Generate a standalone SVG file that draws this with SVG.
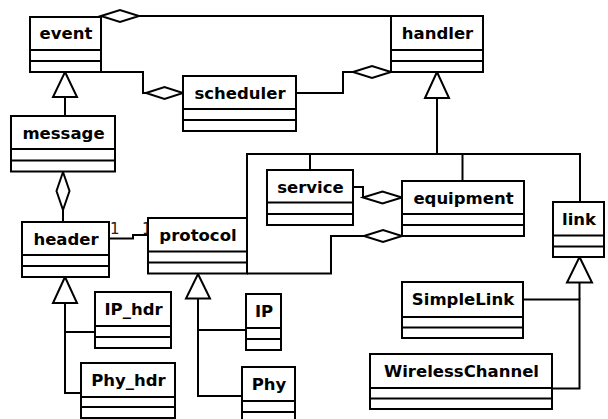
<svg xmlns="http://www.w3.org/2000/svg" width="608" height="419" viewBox="0 0 608 419">
<style>
.box{fill:#fff;stroke:#000;stroke-width:2}
.sep{stroke:#000;stroke-width:2}
.nm{font-family:"DejaVu Sans",sans-serif;font-weight:bold;font-size:16.5px;fill:#000;text-anchor:middle}
.ln{fill:none;stroke:#000;stroke-width:2}
.dia{fill:#fff;stroke:#000;stroke-width:2}
.tri{fill:#fff;stroke:#000;stroke-width:2}
.lbl{font-family:"DejaVu Sans",sans-serif;font-size:15px;fill:#222}
</style>
<rect width="608" height="419" fill="#fff"/>
<g id="connectors">
<polyline class="ln" points="139,16 391,16"/>
<polygon class="dia" points="101,16 120,10 139,16 120,22"/>
<polyline class="ln" points="101,72 143,72 143,93 146,93"/>
<polygon class="dia" points="146,93 164.5,87 183,93 164.5,99"/>
<polyline class="ln" points="296,93 343,93 343,72 353,72"/>
<polygon class="dia" points="353,72 372,66 391,72 372,78"/>
<line class="ln" x1="65" y1="97" x2="65" y2="116"/>
<polygon class="tri" points="65,72 77,97 53,97"/>
<line class="ln" x1="63" y1="210" x2="63" y2="222"/>
<polygon class="dia" points="63,172 69.5,191 63,210 56.5,191"/>
<polyline class="ln" points="109,238.5 133,238.5 133,235 148,235"/>
<text class="lbl" x="110" y="233.5">1</text>
<text class="lbl" x="142" y="233.5">1</text>
<line class="ln" x1="437" y1="98" x2="437" y2="154"/>
<polygon class="tri" points="437,72 449,98 425,98"/>
<polyline class="ln" points="247,218 247,154 580,154 580,202"/>
<line class="ln" x1="310" y1="154" x2="310" y2="170"/>
<line class="ln" x1="462.5" y1="154" x2="462.5" y2="181"/>
<polyline class="ln" points="353,187 363,187 363,197.5"/>
<polygon class="dia" points="363,197.5 382.5,191.5 402,197.5 382.5,203.5"/>
<polyline class="ln" points="247,273.5 331,273.5 331,236 364,236"/>
<polygon class="dia" points="364,236 383,230 402,236 383,242"/>
<polyline class="ln" points="95,332 65,332 65,393 81,393"/>
<line class="ln" x1="65" y1="303" x2="65" y2="332"/>
<polygon class="tri" points="65,277 77,303 53,303"/>
<polyline class="ln" points="246,330 198,330 198,396 242,396"/>
<line class="ln" x1="198" y1="298.5" x2="198" y2="330"/>
<polygon class="tri" points="198,274 210,298.5 186,298.5"/>
<polyline class="ln" points="523,299.5 579.5,299.5 579.5,388.5 552,388.5"/>
<line class="ln" x1="579.5" y1="282.5" x2="579.5" y2="299.5"/>
<polygon class="tri" points="579.5,257 592,282.5 567,282.5"/>
</g>
<g id="event"><rect class="box" x="30" y="17" width="71" height="55"/><line class="sep" x1="30" y1="50" x2="101" y2="50"/><line class="sep" x1="30" y1="61" x2="101" y2="61"/><text class="nm" x="66" y="39">event</text></g>
<g id="handler"><rect class="box" x="391" y="16" width="92" height="56"/><line class="sep" x1="391" y1="50" x2="483" y2="50"/><line class="sep" x1="391" y1="61" x2="483" y2="61"/><text class="nm" x="437.5" y="39">handler</text></g>
<g id="scheduler"><rect class="box" x="183" y="76" width="113" height="55"/><line class="sep" x1="183" y1="109" x2="296" y2="109"/><line class="sep" x1="183" y1="120" x2="296" y2="120"/><text class="nm" x="240" y="99">scheduler</text></g>
<g id="message"><rect class="box" x="11" y="116" width="104" height="55.5"/><line class="sep" x1="11" y1="149" x2="115" y2="149"/><line class="sep" x1="11" y1="160.5" x2="115" y2="160.5"/><text class="nm" x="63.5" y="139">message</text></g>
<g id="header"><rect class="box" x="22" y="222" width="87" height="55"/><line class="sep" x1="22" y1="255" x2="109" y2="255"/><line class="sep" x1="22" y1="266" x2="109" y2="266"/><text class="nm" x="66" y="245">header</text></g>
<g id="protocol"><rect class="box" x="148" y="218" width="99" height="55.5"/><line class="sep" x1="148" y1="251.5" x2="247" y2="251.5"/><line class="sep" x1="148" y1="262.5" x2="247" y2="262.5"/><text class="nm" x="198" y="241">protocol</text></g>
<g id="service"><rect class="box" x="267" y="170" width="86" height="55"/><line class="sep" x1="267" y1="202.5" x2="353" y2="202.5"/><line class="sep" x1="267" y1="214" x2="353" y2="214"/><text class="nm" x="310.5" y="193">service</text></g>
<g id="equipment"><rect class="box" x="402" y="181" width="122" height="55"/><line class="sep" x1="402" y1="214" x2="524" y2="214"/><line class="sep" x1="402" y1="225" x2="524" y2="225"/><text class="nm" x="463.5" y="204">equipment</text></g>
<g id="link"><rect class="box" x="553" y="202" width="51" height="55"/><line class="sep" x1="553" y1="235.5" x2="604" y2="235.5"/><line class="sep" x1="553" y1="246.5" x2="604" y2="246.5"/><text class="nm" x="579" y="225">link</text></g>
<g id="IP_hdr"><rect class="box" x="95" y="292" width="76" height="56"/><line class="sep" x1="95" y1="326" x2="171" y2="326"/><line class="sep" x1="95" y1="337" x2="171" y2="337"/><text class="nm" x="133.5" y="315">IP_hdr</text></g>
<g id="Phy_hdr"><rect class="box" x="81" y="363" width="94" height="55"/><line class="sep" x1="81" y1="397" x2="175" y2="397"/><line class="sep" x1="81" y1="407" x2="175" y2="407"/><text class="nm" x="128.5" y="386">Phy_hdr</text></g>
<g id="IP"><rect class="box" x="246" y="294" width="35" height="56"/><line class="sep" x1="246" y1="328" x2="281" y2="328"/><line class="sep" x1="246" y1="339" x2="281" y2="339"/><text class="nm" x="264" y="317">IP</text></g>
<g id="Phy"><rect class="box" x="242" y="367" width="53" height="56"/><line class="sep" x1="242" y1="401" x2="295" y2="401"/><line class="sep" x1="242" y1="412" x2="295" y2="412"/><text class="nm" x="269" y="390">Phy</text></g>
<g id="SimpleLink"><rect class="box" x="402" y="282" width="121" height="56"/><line class="sep" x1="402" y1="317" x2="523" y2="317"/><line class="sep" x1="402" y1="327.5" x2="523" y2="327.5"/><text class="nm" x="463" y="305">SimpleLink</text></g>
<g id="WirelessChannel"><rect class="box" x="370" y="354" width="182" height="55"/><line class="sep" x1="370" y1="388" x2="552" y2="388"/><line class="sep" x1="370" y1="398.5" x2="552" y2="398.5"/><text class="nm" x="461.5" y="377">WirelessChannel</text></g>
</svg>
